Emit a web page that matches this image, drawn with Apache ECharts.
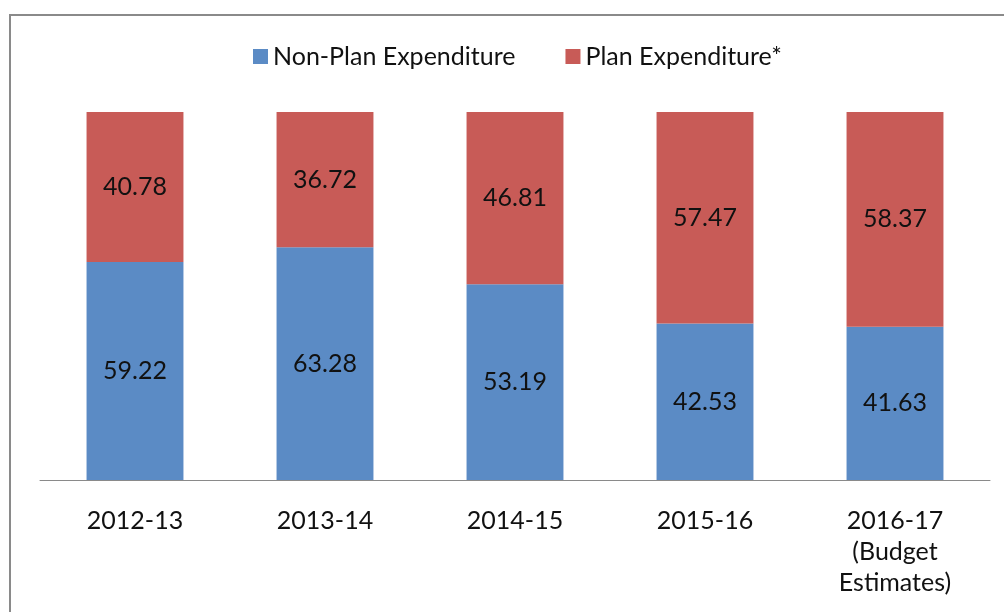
<!DOCTYPE html>
<html>
<head>
<meta charset="utf-8">
<script src="https://cdn.jsdelivr.net/npm/echarts@6/dist/echarts.min.js"></script>
<style>
  html, body { margin: 0; padding: 0; background: #fff; }
  #chart { width: 1004px; height: 612px; }
</style>
</head>
<body>
<div id="chart"></div>
<script>
// data
const years = ['2012-13', '2013-14', '2014-15', '2015-16', '2016-17\n(Budget\nEstimates)'];
const nonPlan = [59.22, 63.28, 53.19, 42.53, 41.63];
const plan = [40.78, 36.72, 46.81, 57.47, 58.37];

const font = 'Lato, "Open Sans", sans-serif';
const chart = echarts.init(document.getElementById('chart'));

const labelStyle = {
    show: true,
    position: 'inside',
    color: '#111',
    fontSize: 25,
    fontFamily: font,
    formatter: p => p.value.toFixed(2)
};

chart.setOption({
    animation: false,
    graphic: [{
        type: 'rect',
        shape: { x: 10, y: 15, width: 1100, height: 700 },
        style: { fill: 'none', stroke: '#8a8a8a', lineWidth: 2 },
        silent: true
    }],
    legend: {
        top: 39,
        left: 248,
        itemWidth: 15,
        itemHeight: 15,
        itemGap: 50,
        icon: 'rect',
        textStyle: { fontSize: 25, fontFamily: font, color: '#111' },
        data: ['Non-Plan Expenditure', 'Plan Expenditure*']
    },
    grid: { left: 40, right: 14, top: 112, bottom: 132 },
    xAxis: {
        type: 'category',
        data: years,
        axisLine: { lineStyle: { color: '#8a8a8a', width: 1 } },
        axisTick: { show: false },
        axisLabel: {
            margin: 25,
            fontSize: 25,
            lineHeight: 31,
            color: '#111',
            fontFamily: font,
            interval: 0
        }
    },
    yAxis: {
        type: 'value',
        min: 0,
        max: 100,
        show: false
    },
    series: [
        {
            name: 'Non-Plan Expenditure',
            type: 'bar',
            stack: 'total',
            barWidth: '51%',
            data: nonPlan,
            itemStyle: { color: '#5B8BC5' },
            label: labelStyle
        },
        {
            name: 'Plan Expenditure*',
            type: 'bar',
            stack: 'total',
            data: plan,
            itemStyle: { color: '#C85B57' },
            label: labelStyle
        }
    ]
});
</script>
</body>
</html>
